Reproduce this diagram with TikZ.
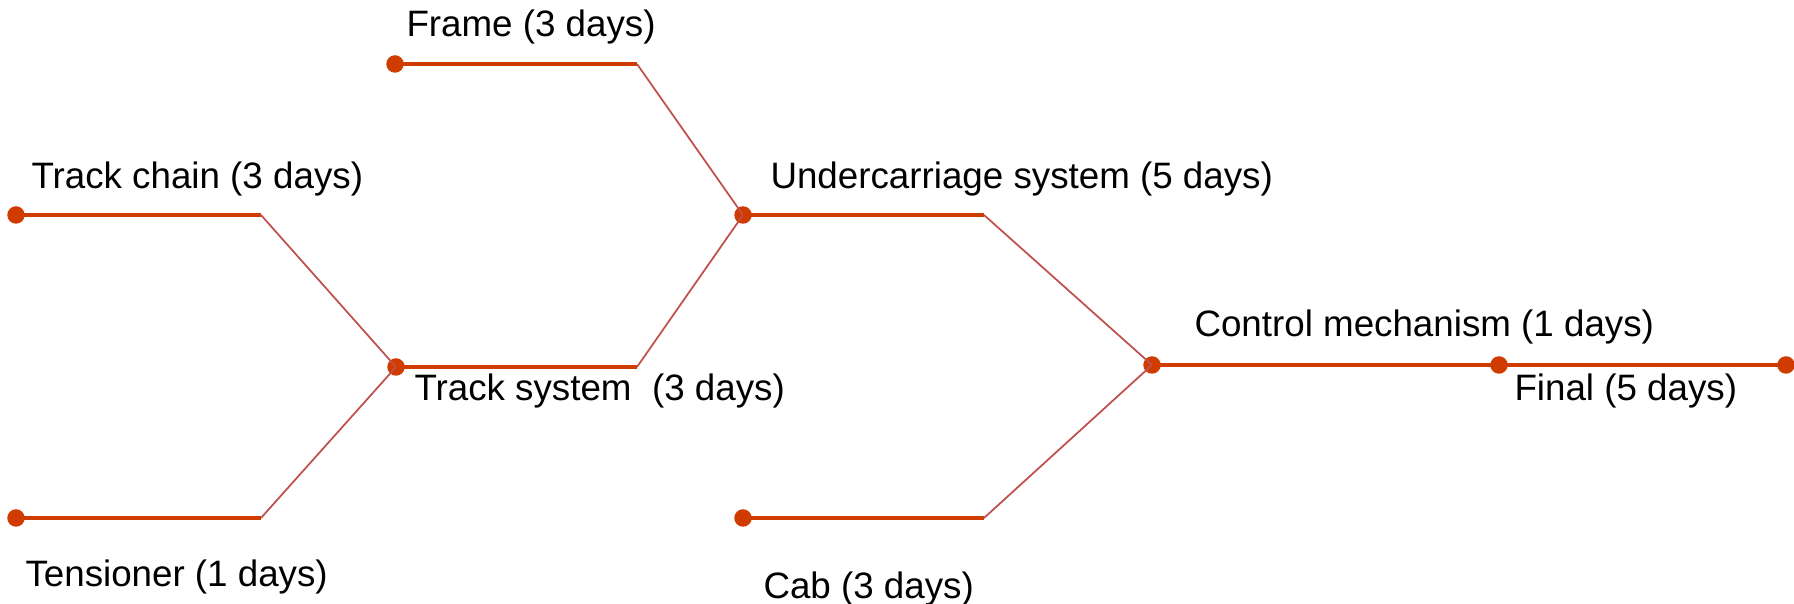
\documentclass[tikz,border=0pt]{standalone}
\usepackage{fontspec}
\setmainfont{Liberation Sans}
\definecolor{lineorange}{HTML}{D03C00}
\definecolor{diagred}{HTML}{C0504D}
\tikzset{
  dot/.style={circle,fill=lineorange,inner sep=0pt,minimum size=7pt},
  hline/.style={lineorange,line width=1.5pt},
  dline/.style={diagred,line width=0.7pt},
  lbl/.style={anchor=west,inner sep=0pt,font=\fontsize{14.7}{17}\selectfont}
}
\begin{document}
\begin{tikzpicture}[x=0.4pt,y=-0.4pt]
\useasboundingbox (0,0) rectangle (1794,604);
% dots
\node[dot](frame) at (395,64){};
\node[dot](chain) at (16,215){};
\node[dot](tens) at (16,518){};
\node[dot](track) at (396,367){};
\node[dot](under) at (743,215){};
\node[dot](cab) at (743,518){};
\node[dot](ctrl) at (1152,365){};
\node[dot](final) at (1499,365){};
\node[dot](finish) at (1786,365){};
% bends
\coordinate (frameB) at (637,64);
\coordinate (chainB) at (261,215);
\coordinate (tensB) at (261,518);
\coordinate (trackB) at (637,367);
\coordinate (underB) at (984,215);
\coordinate (cabB) at (984,518);
%
\draw[hline] (frame.center)--(frameB);
\draw[dline] (frameB)--(under.center);
\draw[hline] (chain.center)--(chainB);
\draw[dline] (chainB)--(track.center);
\draw[hline] (tens.center)--(tensB);
\draw[dline] (tensB)--(track.center);
\draw[hline] (track.center)--(trackB);
\draw[dline] (trackB)--(under.center);
\draw[hline] (under.center)--(underB);
\draw[dline] (underB)--(ctrl.center);
\draw[hline] (cab.center)--(cabB);
\draw[dline] (cabB)--(ctrl.center);
\draw[hline] (ctrl.center)--(final.center)--(finish.center);
%text
\node[lbl](framelbl) at (406,27){Frame (3 days)};
\node[lbl](chainlbl) at (31,179){Track chain (3 days)};
\node[lbl](underlbl) at (770,179){Undercarriage system (5 days)};
\node[lbl](tracklbl) at (414,391){Track system \ (3 days)};
\node[lbl](ctrllbl) at (1194,327){Control mechanism (1 days)};
\node[lbl](finallbl) at (1514,391){Final (5 days)};
\node[lbl](tenslbl) at (25,577){Tensioner (1 days)};
\node[lbl](cablbl) at (763,589){Cab (3 days)};
\end{tikzpicture}
\end{document}
